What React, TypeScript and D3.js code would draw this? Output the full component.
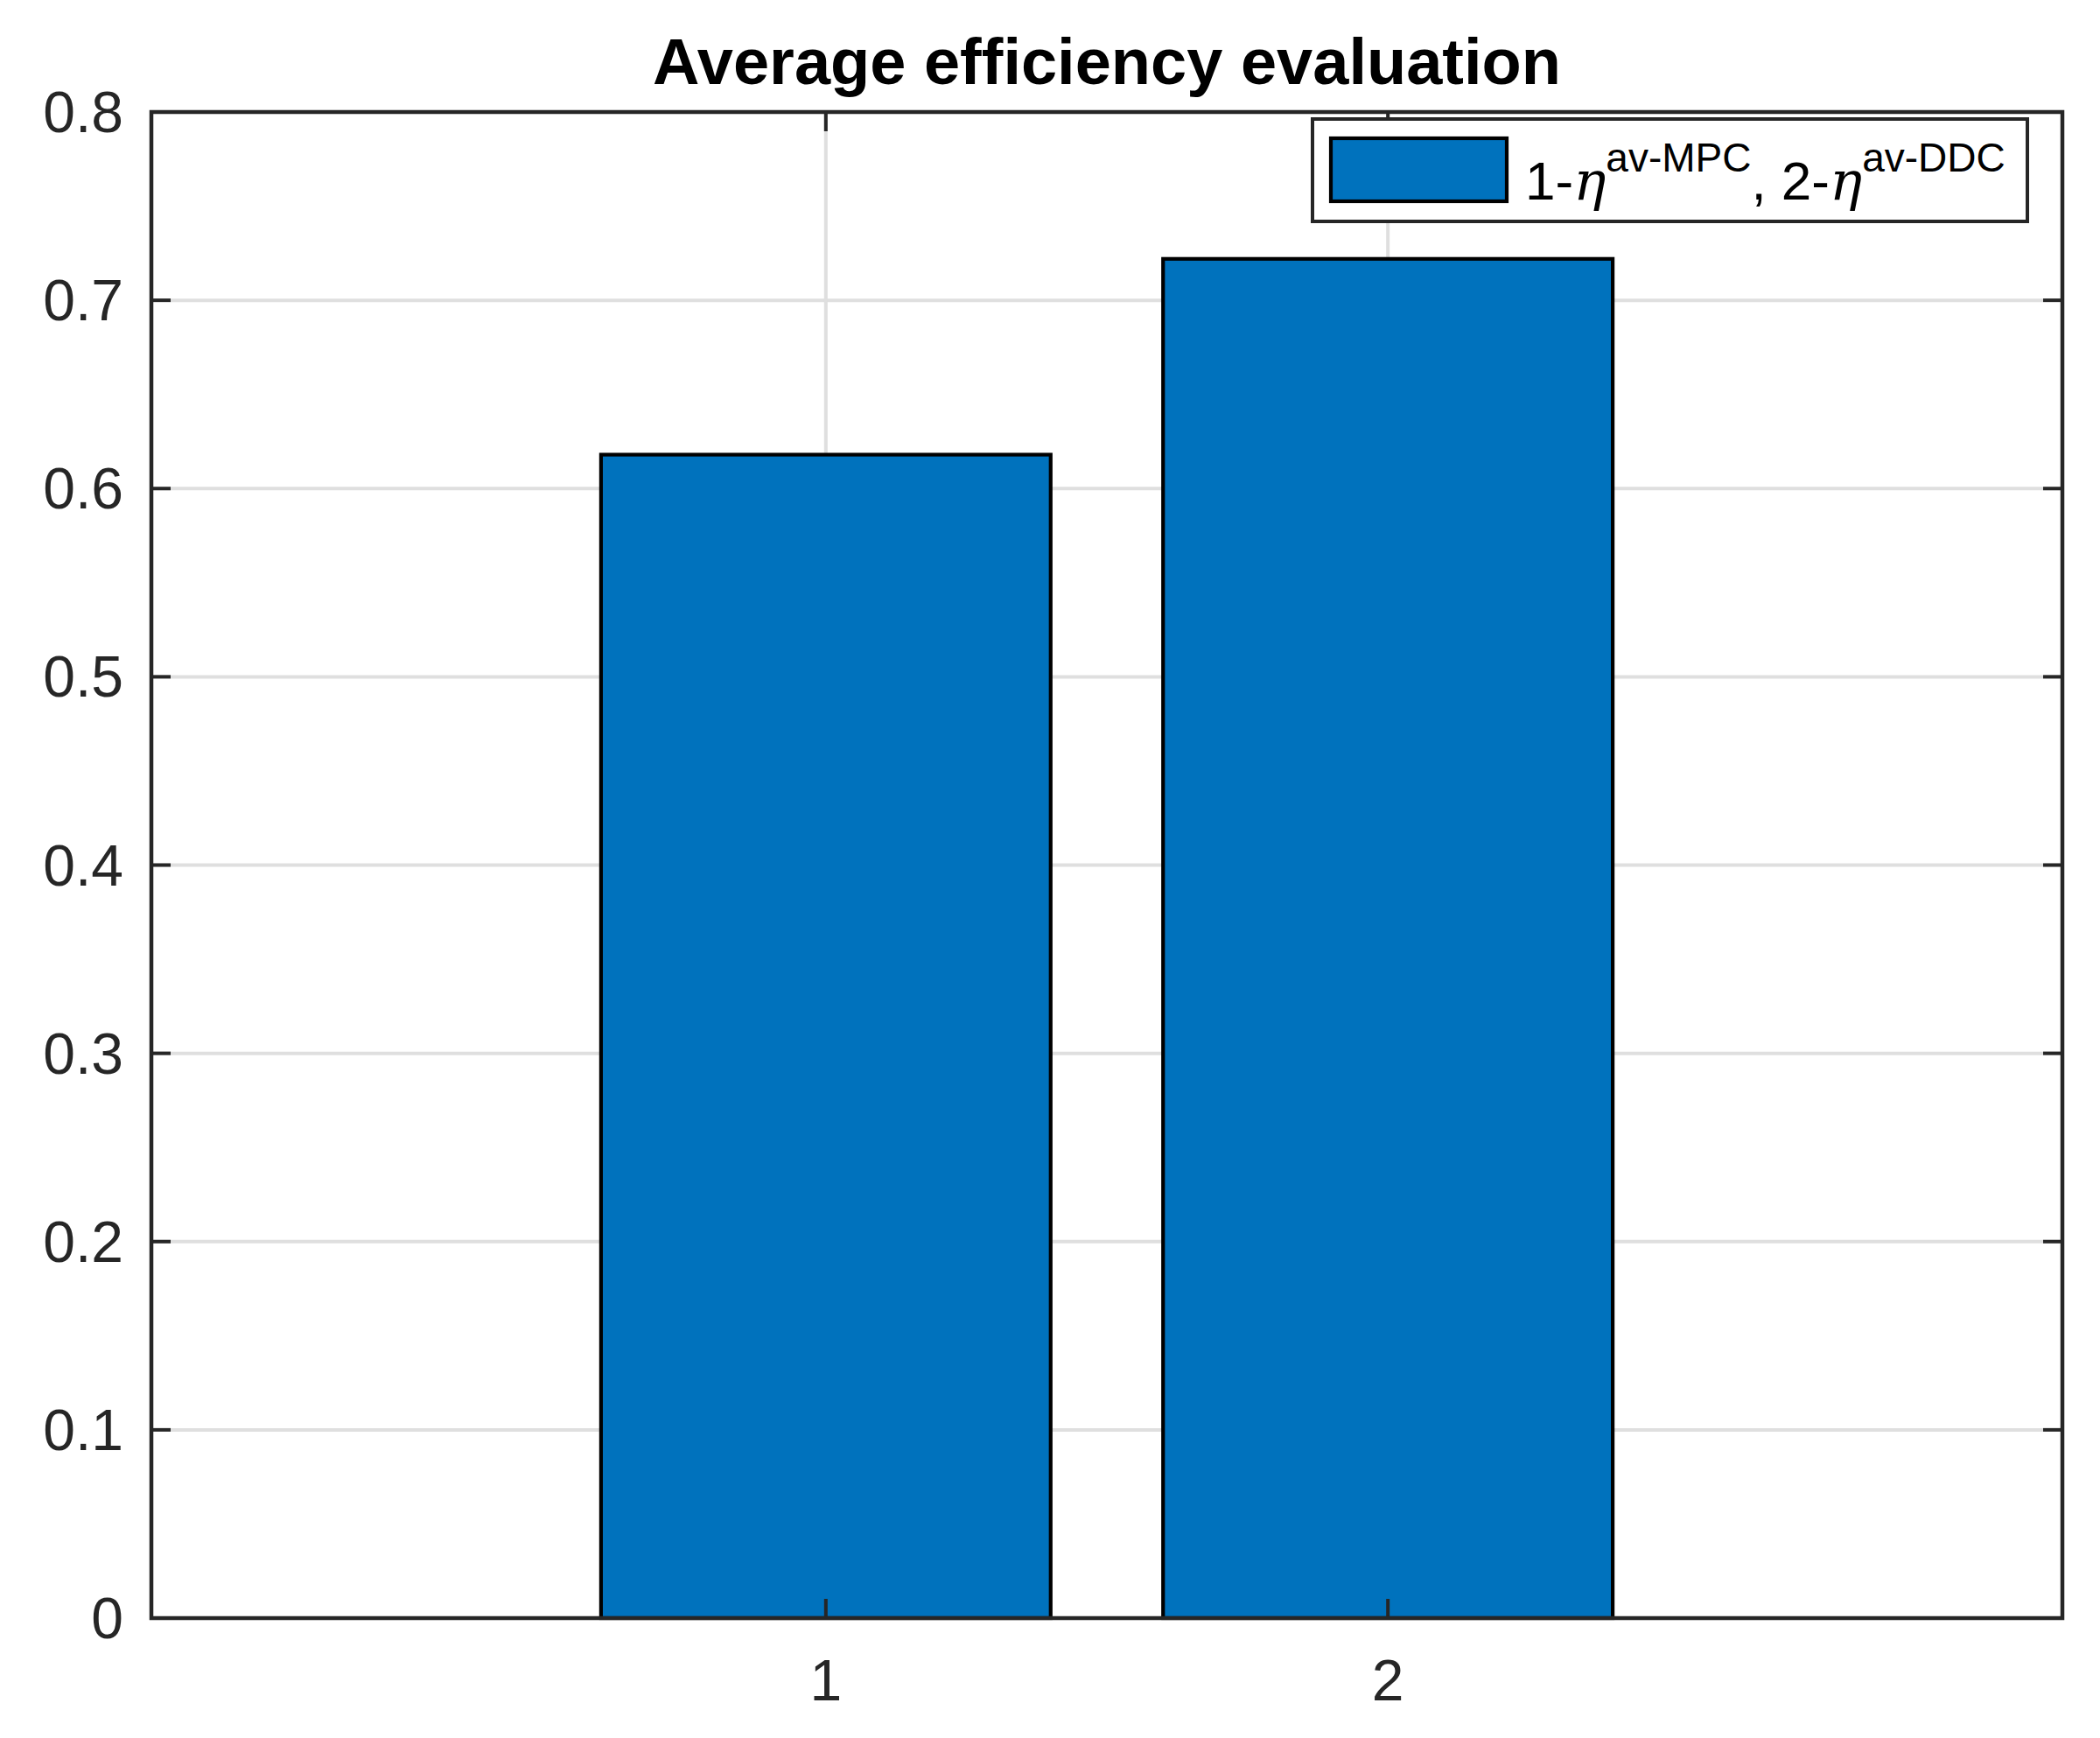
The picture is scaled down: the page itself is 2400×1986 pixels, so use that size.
import React from 'react';
import * as d3 from 'd3';

const categories: number[] = [1, 2];
const values: number[] = [0.618, 0.722];
const yTicks: number[] = [0, 0.1, 0.2, 0.3, 0.4, 0.5, 0.6, 0.7, 0.8];
const yTickLabels: string[] = ['0', '0.1', '0.2', '0.3', '0.4', '0.5', '0.6', '0.7', '0.8'];
const xTicks: number[] = [1, 2];
const xTickLabels: string[] = ['1', '2'];
const xDomain: [number, number] = [-0.2, 3.2];
const yDomain: [number, number] = [0, 0.8];
const titleText = 'Average efficiency evaluation';
const barWidthUnits = 0.8;

const W = 2400;
const H = 1986;
const L = 173, R = 2357, T = 128, B = 1849;
const AX = '#262626';
const GRID = '#dfdfdf';
const BAR = '#0072BD';
const FONT = "'Liberation Sans', Arial, Helvetica, sans-serif";
const TICK = 22;

export default function App() {
  const x = d3.scaleLinear().domain(xDomain).range([L, R]);
  const y = d3.scaleLinear().domain(yDomain).range([B, T]);

  return (
    <svg width={W} height={H} viewBox={`0 0 ${W} ${H}`}
      style={{ position: 'absolute', left: 0, top: 0, background: '#fff' }}>
      <rect x={0} y={0} width={W} height={H} fill="#fff" />
      {/* grid */}
      {yTicks.map((t, i) => (
        <line key={'gy' + i} x1={L} x2={R} y1={y(t)} y2={y(t)} stroke={GRID} strokeWidth={4} />
      ))}
      {xTicks.map((t, i) => (
        <line key={'gx' + i} x1={x(t)} x2={x(t)} y1={T} y2={B} stroke={GRID} strokeWidth={4} />
      ))}
      {/* bars */}
      {categories.map((c, i) => (
        <rect key={'b' + i}
          x={x(c - barWidthUnits / 2)} y={y(values[i])}
          width={x(c + barWidthUnits / 2) - x(c - barWidthUnits / 2)}
          height={y(0) - y(values[i])}
          fill={BAR} stroke="#000" strokeWidth={4.2} />
      ))}
      {/* ticks */}
      {yTicks.map((t, i) => (
        <g key={'ty' + i}>
          <line x1={L} x2={L + TICK} y1={y(t)} y2={y(t)} stroke={AX} strokeWidth={4} />
          <line x1={R} x2={R - TICK} y1={y(t)} y2={y(t)} stroke={AX} strokeWidth={4} />
          <text x={141} y={y(t) + 23} textAnchor="end" fontFamily={FONT} fontSize={66} fill={AX}>
            {yTickLabels[i]}
          </text>
        </g>
      ))}
      {xTicks.map((t, i) => (
        <g key={'tx' + i}>
          <line x1={x(t)} x2={x(t)} y1={B} y2={B - TICK} stroke={AX} strokeWidth={4} />
          <line x1={x(t)} x2={x(t)} y1={T} y2={T + TICK} stroke={AX} strokeWidth={4} />
          <text x={x(t)} y={1943} textAnchor="middle" fontFamily={FONT} fontSize={66} fill={AX}>
            {xTickLabels[i]}
          </text>
        </g>
      ))}
      {/* axes box */}
      <rect x={L} y={T} width={R - L} height={B - T} fill="none" stroke={AX} strokeWidth={4.5} />
      {/* title */}
      <text x={(L + R) / 2} y={96} textAnchor="middle" fontFamily={FONT} fontWeight="bold" fontSize={74} fill="#000">
        {titleText}
      </text>
      {/* legend */}
      <rect x={1500} y={136} width={817} height={117} fill="#fff" stroke={AX} strokeWidth={4} />
      <rect x={1521} y={158} width={201} height={72} fill={BAR} stroke="#000" strokeWidth={4.2} />
      <text x={1743} y={228} fontFamily={FONT} fontSize={62} fill="#000">
        <tspan>1-</tspan>
        <tspan fontFamily="'DejaVu Serif', 'Liberation Serif', serif" fontStyle="italic">η</tspan>
        <tspan fontSize={46} dy={-32}>av-MPC</tspan>
        <tspan dy={32}>, 2-</tspan>
        <tspan fontFamily="'DejaVu Serif', 'Liberation Serif', serif" fontStyle="italic">η</tspan>
        <tspan fontSize={46} dy={-32}>av-DDC</tspan>
      </text>
    </svg>
  );
}
